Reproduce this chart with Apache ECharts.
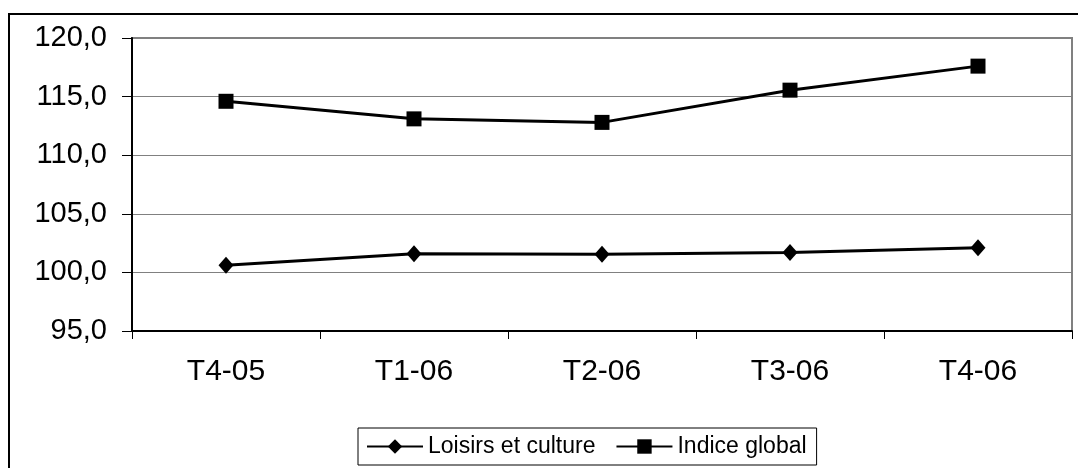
<!DOCTYPE html>
<html>
<head>
<meta charset="utf-8">
<script src="https://cdn.jsdelivr.net/npm/echarts@6/dist/echarts.min.js"></script>
<style>
html,body{margin:0;padding:0;background:#fff;}
#chart{width:1078px;height:468px;}
</style>
</head>
<body>
<div id="chart"></div>
<script>
var categories = ['T4-05', 'T1-06', 'T2-06', 'T3-06', 'T4-06'];
var loisirsEtCulture = [100.6, 101.6, 101.55, 101.7, 102.1];
var indiceGlobal = [114.6, 113.1, 112.8, 115.55, 117.6];
var seriesNames = ['Loisirs et culture', 'Indice global'];

var chart = echarts.init(document.getElementById('chart'), null, {renderer: 'canvas'});
var font = '"Liberation Sans", Arial, sans-serif';
chart.setOption({
  animation: false,
  backgroundColor: '#ffffff',
  graphic: [{
    type: 'rect',
    shape: {x: 9, y: 14, width: 1100, height: 500},
    style: {fill: 'none', stroke: '#000', lineWidth: 2},
    silent: true,
    z: -1
  }],
  grid: {
    left: 132, right: 6, top: 38, bottom: 137,
    show: true, borderColor: '#808080', borderWidth: 2, backgroundColor: 'transparent'
  },
  legend: {
    bottom: 3,
    left: 358,
    orient: 'horizontal',
    itemWidth: 56,
    itemHeight: 18,
    itemGap: 20,
    padding: [7, 10, 7, 8],
    borderColor: '#000',
    borderWidth: 1,
    textStyle: {fontFamily: font, fontSize: 23, color: '#000'},
    data: seriesNames
  },
  xAxis: {
    type: 'category',
    data: categories,
    boundaryGap: true,
    axisLine: {lineStyle: {color: '#000', width: 2}},
    axisTick: {show: true, length: 8, lineStyle: {color: '#000', width: 1}},
    axisLabel: {fontFamily: font, fontSize: 30, color: '#000', margin: 26},
    splitLine: {show: false}
  },
  yAxis: {
    type: 'value',
    min: 95, max: 120, interval: 5,
    axisLine: {show: true, lineStyle: {color: '#000', width: 2}},
    axisTick: {show: true, length: 10, lineStyle: {color: '#000', width: 1}},
    axisLabel: {
      fontFamily: font, fontSize: 29, color: '#000', margin: 25,
      formatter: function (v) { return v.toFixed(1).replace('.', ','); }
    },
    splitLine: {show: true, lineStyle: {color: '#808080', width: 1}}
  },
  series: [{
    name: seriesNames[0],
    type: 'line',
    data: loisirsEtCulture,
    symbol: 'diamond',
    symbolSize: [15, 17],
    lineStyle: {color: '#000', width: 3},
    itemStyle: {color: '#000'}
  }, {
    name: seriesNames[1],
    type: 'line',
    data: indiceGlobal,
    symbol: 'rect',
    symbolSize: 15,
    lineStyle: {color: '#000', width: 3},
    itemStyle: {color: '#000'}
  }]
});
</script>
</body>
</html>
